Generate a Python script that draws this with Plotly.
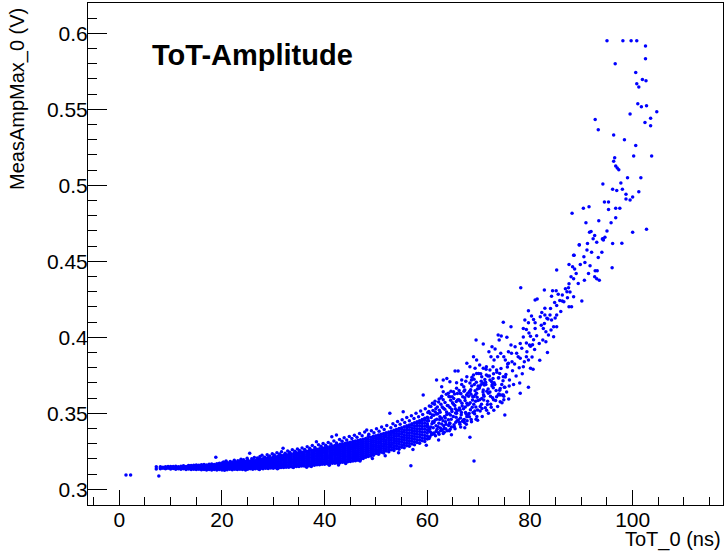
import plotly.graph_objects as go

# dense core of the ToT vs amplitude band, read column by column (ToT in ns, amplitude in V)
core_tot = [8.0, 8.5, 9.0, 9.5, 10.0, 10.5, 11.0, 11.5, 12.0, 12.5, 13.0, 13.5, 14.0, 14.5,
            15.0, 15.5, 16.0, 16.5, 17.0, 17.5, 18.0, 18.5, 19.0, 19.5, 20.0, 20.5, 21.0, 21.5,
            22.0, 22.5, 23.0, 23.5, 24.0, 24.5, 25.0, 25.5, 26.0, 26.5, 27.0, 27.5, 28.0, 28.5,
            29.0, 29.5, 30.0, 30.5, 31.0, 31.5, 32.0, 32.5, 33.0, 33.5, 34.0, 34.5, 35.0, 35.5,
            36.0, 36.5, 37.0, 37.5, 38.0, 38.5, 39.0, 39.5, 40.0, 40.5, 41.0, 41.5, 42.0, 42.5,
            43.0, 43.5, 44.0, 44.5, 45.0, 45.5, 46.0, 46.5, 47.0, 47.5, 48.0, 48.5, 49.0, 49.5,
            50.0, 50.5, 51.0, 51.5, 52.0, 52.5, 53.0, 53.5, 54.0, 54.5, 55.0, 55.5, 56.0, 56.5,
            57.0, 57.5, 58.0, 58.5, 59.0, 59.5, 60.0]
core_amp = [
    [.3136, .3142, .3148], [.3139, .3145], [.3135, .3141, .3148], [.3138, .3145, .3151],
    [.3134, .3140, .3146, .3151], [.3137, .3144, .3150], [.3133, .3139, .3146, .3152],
    [.3136, .3143, .3149], [.3132, .3139, .3145, .3152], [.3135, .3142, .3148, .3155],
    [.3131, .3138, .3144, .3151], [.3134, .3141, .3147, .3154, .3157],
    [.3130, .3137, .3143, .3150, .3157], [.3133, .3140, .3146, .3153, .3159],
    [.3130, .3136, .3142, .3148, .3155, .3160], [.3132, .3139, .3145, .3152, .3158],
    [.3129, .3135, .3141, .3148, .3155, .3162], [.3131, .3138, .3144, .3151, .3158, .3164],
    [.3128, .3134, .3141, .3147, .3154, .3161], [.3131, .3137, .3144, .3150, .3157, .3165],
    [.3128, .3134, .3140, .3147, .3154, .3160, .3167], [.3130, .3137, .3143, .3150, .3157, .3164],
    [.3128, .3134, .3140, .3147, .3153, .3160, .3168],
    [.3131, .3137, .3144, .3150, .3157, .3164, .3171],
    [.3128, .3134, .3141, .3147, .3154, .3160, .3167, .3173],
    [.3131, .3137, .3144, .3151, .3158, .3165, .3172],
    [.3129, .3135, .3142, .3148, .3155, .3162, .3169, .3176],
    [.3132, .3138, .3145, .3152, .3159, .3166, .3173],
    [.3129, .3136, .3142, .3149, .3156, .3163, .3170, .3178],
    [.3132, .3139, .3146, .3153, .3160, .3167, .3174, .3181],
    [.3130, .3136, .3143, .3150, .3157, .3164, .3171, .3178],
    [.3133, .3140, .3147, .3154, .3161, .3168, .3175, .3183],
    [.3131, .3138, .3145, .3152, .3159, .3166, .3173, .3180, .3188],
    [.3134, .3141, .3148, .3155, .3162, .3170, .3177, .3185],
    [.3132, .3139, .3146, .3153, .3161, .3168, .3175, .3183, .3191],
    [.3135, .3142, .3149, .3157, .3164, .3172, .3179, .3187],
    [.3133, .3140, .3148, .3155, .3162, .3170, .3178, .3186, .3194],
    [.3136, .3144, .3151, .3159, .3166, .3174, .3182, .3190],
    [.3135, .3142, .3149, .3157, .3165, .3173, .3181, .3189, .3197],
    [.3137, .3145, .3153, .3161, .3168, .3176, .3184, .3193, .3200],
    [.3136, .3143, .3151, .3159, .3167, .3175, .3183, .3191, .3201],
    [.3138, .3146, .3154, .3162, .3170, .3178, .3187, .3195, .3204],
    [.3137, .3145, .3153, .3161, .3169, .3177, .3185, .3193, .3202, .3209],
    [.3140, .3148, .3156, .3164, .3172, .3181, .3189, .3198, .3207],
    [.3139, .3147, .3155, .3163, .3171, .3179, .3188, .3196, .3205, .3214],
    [.3142, .3154, .3166, .3178, .3190, .3202, .3214],
    [.3141, .3148, .3160, .3172, .3184, .3196, .3208, .3219],
    [.3144, .3156, .3168, .3180, .3192, .3204, .3216, .3222],
    [.3143, .3150, .3162, .3174, .3186, .3198, .3210, .3224],
    [.3146, .3158, .3170, .3182, .3194, .3206, .3218, .3228],
    [.3145, .3152, .3164, .3176, .3188, .3200, .3212, .3224, .3231],
    [.3148, .3160, .3172, .3184, .3196, .3208, .3220, .3232],
    [.3148, .3154, .3166, .3178, .3190, .3202, .3214, .3226, .3236],
    [.3150, .3162, .3174, .3186, .3198, .3210, .3222, .3234, .3240],
    [.3150, .3157, .3169, .3181, .3193, .3205, .3217, .3229, .3242],
    [.3153, .3165, .3177, .3189, .3201, .3213, .3225, .3237, .3246],
    [.3153, .3160, .3172, .3184, .3196, .3208, .3220, .3232, .3247],
    [.3156, .3168, .3180, .3192, .3204, .3216, .3228, .3240, .3251],
    [.3156, .3163, .3175, .3187, .3199, .3211, .3223, .3235, .3247, .3255],
    [.3159, .3171, .3183, .3195, .3207, .3219, .3231, .3243, .3258],
    [.3159, .3166, .3178, .3190, .3202, .3214, .3226, .3238, .3250, .3261],
    [.3162, .3174, .3186, .3198, .3210, .3222, .3234, .3246, .3258, .3264],
    [.3162, .3169, .3181, .3193, .3205, .3217, .3229, .3241, .3253, .3267],
    [.3165, .3177, .3189, .3201, .3213, .3225, .3237, .3249, .3261, .3270],
    [.3165, .3172, .3184, .3196, .3208, .3220, .3232, .3244, .3256, .3268, .3274],
    [.3168, .3180, .3192, .3204, .3216, .3228, .3240, .3252, .3264, .3278],
    [.3168, .3175, .3187, .3199, .3211, .3223, .3235, .3247, .3259, .3271, .3281],
    [.3171, .3183, .3195, .3207, .3219, .3231, .3243, .3255, .3267, .3279, .3285],
    [.3171, .3178, .3190, .3202, .3214, .3226, .3238, .3250, .3262, .3274, .3288],
    [.3174, .3186, .3198, .3210, .3222, .3234, .3246, .3258, .3270, .3282, .3292],
    [.3175, .3182, .3194, .3206, .3218, .3230, .3242, .3254, .3266, .3278, .3290, .3296],
    [.3178, .3190, .3202, .3214, .3226, .3238, .3250, .3262, .3274, .3286, .3299],
    [.3178, .3186, .3198, .3210, .3222, .3234, .3246, .3258, .3270, .3282, .3294, .3303],
    [.3182, .3194, .3206, .3218, .3230, .3242, .3254, .3266, .3278, .3290, .3302, .3307],
    [.3183, .3191, .3203, .3215, .3227, .3239, .3251, .3263, .3275, .3287, .3299, .3310],
    [.3187, .3199, .3211, .3223, .3235, .3247, .3259, .3271, .3283, .3295, .3307, .3314],
    [.3188, .3196, .3208, .3220, .3232, .3244, .3256, .3268, .3280, .3292, .3304, .3318],
    [.3192, .3205, .3218, .3231, .3244, .3257, .3270, .3283, .3296, .3309, .3322],
    [.3196, .3202, .3215, .3228, .3241, .3254, .3267, .3280, .3293, .3306, .3319, .3326],
    [.3203, .3210, .3223, .3236, .3249, .3262, .3275, .3288, .3301, .3314, .3330],
    [.3211, .3221, .3234, .3247, .3260, .3273, .3286, .3299, .3312, .3325, .3334],
    [.3216, .3230, .3244, .3258, .3272, .3286, .3300, .3314, .3330, .3347],
    [.3220, .3229, .3243, .3257, .3271, .3285, .3299, .3313, .3327, .3343],
    [.3224, .3238, .3252, .3266, .3280, .3294, .3308, .3322, .3337, .3350],
    [.3236, .3250, .3264, .3278, .3292, .3306, .3320, .3334, .3352],
    [.3231, .3245, .3259, .3273, .3287, .3301, .3315, .3329, .3343, .3357],
    [.3244, .3259, .3274, .3289, .3304, .3319, .3334, .3349, .3362],
    [.3239, .3254, .3269, .3284, .3299, .3314, .3329, .3344, .3359, .3367],
    [.3252, .3267, .3282, .3297, .3312, .3327, .3342, .3357, .3372],
    [.3247, .3262, .3277, .3292, .3307, .3322, .3337, .3352, .3367, .3378],
    [.3261, .3277, .3293, .3309, .3325, .3341, .3357, .3373, .3383],
    [.3255, .3271, .3287, .3303, .3319, .3335, .3351, .3367, .3383, .3389],
    [.3269, .3285, .3301, .3317, .3333, .3349, .3365, .3381, .3394],
    [.3264, .3281, .3298, .3315, .3332, .3349, .3366, .3383, .3400],
    [.3277, .3294, .3311, .3328, .3345, .3362, .3379, .3396, .3406],
    [.3273, .3290, .3307, .3324, .3341, .3358, .3375, .3392, .3412],
    [.3287, .3304, .3321, .3338, .3355, .3372, .3389, .3406, .3418],
    [.3283, .3301, .3319, .3337, .3355, .3373, .3391, .3409, .3424],
    [.3298, .3316, .3334, .3352, .3370, .3388, .3406, .3424, .3431],
    [.3293, .3311, .3329, .3347, .3365, .3383, .3401, .3419, .3438],
    [.3308, .3326, .3344, .3362, .3380, .3398, .3416, .3434, .3445],
    [.3304, .3323, .3342, .3361, .3380, .3399, .3418, .3437, .3452],
    [.3319, .3338, .3357, .3376, .3395, .3414, .3433, .3452, .3460],
    [.3315, .3335, .3355, .3375, .3395, .3415, .3435, .3455, .3467],
    [.3331, .3351, .3371, .3391, .3411, .3431, .3451, .3475],
]

# the band where it starts to spread out (60-76 ns), read point by point
mid_tot = [60.1, 60.2, 60.3, 60.4, 60.6, 60.7, 60.8, 60.9, 61.0, 60.45,
           61.1, 61.2, 61.3, 61.4, 61.6, 61.7, 61.8, 61.9, 61.5, 61.65,
           62.1, 62.2, 62.3, 62.4, 62.5, 62.6, 62.7, 62.8, 62.9, 62.45,
           63.1, 63.2, 63.3, 63.4, 63.5, 63.6, 63.7, 63.8, 63.9, 63.55,
           64.1, 64.2, 64.3, 64.4, 64.5, 64.6, 64.7, 64.8, 64.9, 64.35,
           65.1, 65.2, 65.3, 65.4, 65.5, 65.6, 65.7, 65.8, 65.9, 65.45,
           66.1, 66.2, 66.3, 66.4, 66.5, 66.6, 66.7, 66.8, 66.9, 66.45,
           67.1, 67.2, 67.3, 67.4, 67.5, 67.6, 67.7, 67.8, 67.9, 67.45,
           68.1, 68.2, 68.3, 68.4, 68.5, 68.6, 68.7, 68.8, 68.9, 68.45,
           69.1, 69.2, 69.3, 69.4, 69.5, 69.6, 69.7, 69.8, 69.9, 69.45,
           70.1, 70.3, 70.4, 70.6, 70.7, 70.8, 70.95, 70.55,
           71.1, 71.3, 71.45, 71.6, 71.75, 71.9, 71.2,
           72.1, 72.35, 72.5, 72.7, 72.85, 72.95,
           73.15, 73.3, 73.55, 73.7, 73.85, 73.95,
           74.1, 74.35, 74.55, 74.75, 74.9,
           75.2, 75.45, 75.65, 75.85, 75.95,
           60.05, 60.15, 60.25, 60.35, 60.55, 60.65, 60.75, 60.85,
           61.05, 61.15, 61.25, 61.35, 61.55, 61.7, 61.85, 61.95,
           62.05, 62.15, 62.25, 62.35, 62.55, 62.65, 62.75, 62.85,
           63.05, 63.15, 63.25, 63.35, 63.45, 63.65, 63.75, 63.85,
           64.05, 64.15, 64.25, 64.45, 64.55, 64.65, 64.75, 64.85,
           65.05, 65.15, 65.25, 65.35, 65.55, 65.65, 65.75, 65.85,
           66.05, 66.15, 66.25, 66.35, 66.55, 66.65, 66.75, 66.85,
           67.05, 67.15, 67.25, 67.35, 67.55, 67.65, 67.75, 67.85,
           68.05, 68.15, 68.25, 68.35, 68.55, 68.65, 68.75, 68.85,
           69.05, 69.15, 69.25, 69.35, 69.55, 69.65, 69.75, 69.85,
           70.2, 70.45, 70.65, 70.85, 71.05, 71.35, 71.55, 71.85, 72.2, 72.45, 72.65, 72.9]
mid_amp = [.3468, .3341, .3512, .3402, .3377, .3545, .3359, .3431, .3489, .3396,
           .3519, .3371, .3440, .3560, .3352, .3418, .3496, .3395, .3454, .3531,
           .3412, .3575, .3362, .3459, .3508, .3386, .3603, .3430, .3541, .3477,
           .3590, .3418, .3375, .3527, .3470, .3399, .3625, .3493, .3551, .3444,
           .3458, .3611, .3385, .3538, .3489, .3645, .3410, .3512, .3569, .3437,
           .3560, .3425, .3627, .3398, .3503, .3474, .3665, .3452, .3588, .3531,
           .3522, .3650, .3440, .3582, .3410, .3491, .3690, .3548, .3610, .3470,
           .3675, .3460, .3603, .3541, .3712, .3428, .3566, .3488, .3632, .3505,
           .3560, .3478, .3700, .3523, .3625, .3445, .3738, .3588, .3505, .3655,
           .3725, .3497, .3648, .3580, .3462, .3762, .3606, .3522, .3680, .3541,
           .3665, .3515, .3760, .3598, .3480, .3700, .3622, .3560,
           .3686, .3537, .3790, .3645, .3580, .3500, .3722,
           .3745, .3560, .3710, .3602, .3668, .3520,
           .3690, .3585, .3770, .3545, .3732, .3628,
           .3652, .3795, .3570, .3715, .3612,
           .3740, .3640, .3825, .3595, .3680,
           .3420, .3385, .3452, .3335, .3499, .3410, .3472, .3365,
           .3445, .3405, .3488, .3362, .3509, .3380, .3462, .3541,
           .3498, .3372, .3435, .3521, .3404, .3560, .3468, .3389,
           .3452, .3534, .3401, .3480, .3572, .3428, .3509, .3385,
           .3550, .3420, .3497, .3395, .3586, .3462, .3525, .3610,
           .3480, .3598, .3412, .3551, .3442, .3578, .3519, .3630,
           .3458, .3590, .3536, .3429, .3629, .3505, .3567, .3448,
           .3530, .3645, .3440, .3585, .3498, .3620, .3452, .3555,
           .3612, .3499, .3645, .3570, .3460, .3680, .3540, .3610,
           .3560, .3690, .3515, .3620, .3705, .3480, .3660, .3585,
           .3590, .3688, .3532, .3640, .3612, .3705, .3520, .3660, .3640, .3540, .3690, .3760]

# speckle along the upper and lower edges of the band
edge_tot = [20.3, 20.8, 21.6, 22.4, 23.1, 23.7, 24.2, 24.9, 25.4, 25.8, 26.3, 26.9, 27.4, 27.8,
            28.3, 28.8, 29.3, 29.8, 30.2, 30.7, 31.2, 31.6, 31.9, 32.3, 32.8, 33.2, 33.7, 34.2,
            34.7, 35.1, 35.6, 36.1, 36.6, 37.1, 37.6, 38.1, 38.4, 38.8, 39.3, 39.7, 40.2, 40.7,
            41.2, 41.8, 42.3, 42.9, 43.4, 43.8, 44.3, 44.8, 45.3, 45.8, 46.3, 46.8, 47.3, 47.8,
            48.2, 48.6, 49.1, 49.6, 50.1, 50.6, 51.1, 51.6, 52.1, 52.7, 52.9, 53.3, 53.8, 54.2,
            54.7, 55.3, 55.1, 55.6, 56.0, 56.5, 56.9, 57.4, 57.8, 58.3, 58.7, 59.2, 59.1, 59.6,
            60.1, 60.4, 61.0, 61.5, 61.8, 62.3, 62.8,
            20.5, 24.6, 27.3, 30.8, 33.9, 37.4, 40.9, 44.1, 46.9, 49.3, 51.8, 54.4, 57.2, 59.8,
            62.2, 64.7, 67.3, 69.8]
edge_amp = [.3180, .3186, .3183, .3192, .3188, .3198, .3195, .3204, .3237, .3201, .3210, .3206, .3216, .3224,
            .3212, .3228, .3219, .3235, .3226, .3240, .3232, .3248, .3270, .3238, .3252, .3244, .3260, .3250,
            .3265, .3256, .3272, .3262, .3280, .3270, .3288, .3276, .3313, .3294, .3283, .3302, .3290, .3309,
            .3298, .3318, .3305, .3328, .3316, .3340, .3325, .3348, .3334, .3356, .3342, .3368, .3352, .3378,
            .3390, .3362, .3385, .3372, .3398, .3382, .3410, .3393, .3420, .3500, .3405, .3432, .3418, .3446,
            .3428, .3510, .3458, .3440, .3472, .3452, .3485, .3466, .3500, .3478, .3515, .3620, .3492, .3530,
            .3506, .3548, .3566, .3580, .3720, .3595, .3612,
            .3125, .3128, .3131, .3136, .3143, .3151, .3159, .3170, .3186, .3203, .3221, .3240, .3262, .3290,
            .3325, .3360, .3405, .3455]

# scattered points read one by one (tail, outliers and the steep upper part)
sparse_tot = [1.3, 2.2, 7.2, 7.2, 7.7, 18.8, 36.5, 42.7, 41.4, 42.3, 56.8, 68.3, 69.1,
              60.5, 62.8, 63.1, 64.4, 65.7, 66.4, 67.0, 67.7, 73.5, 73.8, 74.2, 74.2, 74.6, 75.0,
              75.1, 75.1, 62.8, 63.1, 64.1, 65.1, 64.4, 66.4, 67.3, 68.3, 69.0, 69.6, 70.9, 71.9,
              74.2, 74.8, 78.1, 79.7, 65.4, 66.0, 63.8, 63.1, 64.4, 65.7, 66.7, 67.7, 68.6, 69.0,
              72.2, 72.8, 70.9, 70.2, 70.0, 70.6, 71.5, 72.2, 72.8, 73.5, 74.1, 74.8, 70.2, 70.9,
              71.5, 67.7, 68.3, 69.3, 69.0, 69.6, 72.0, 72.4, 73.0, 75.2, 75.8, 76.5, 78.7, 80.1,
              75.8, 76.4, 77.4, 74.3, 74.9, 73.7, 77.7, 78.1, 79.3, 79.7, 72.6, 73.2, 76.3, 77.1,
              78.1, 78.4, 69.5, 70.9, 73.8, 74.4, 74.0, 75.5, 79.3, 79.8, 80.1, 78.7, 79.3, 80.1,
              80.7, 80.5, 74.8, 76.3, 78.7, 82.6, 83.1, 83.6, 84.1, 84.6, 83.1, 82.5, 80.7, 81.0,
              81.0, 79.0, 79.7, 82.8, 84.2, 84.6, 85.2, 82.0, 82.9, 83.3, 83.9, 84.9, 85.2, 79.7,
              80.3, 82.3, 82.9, 87.6, 88.1, 85.2, 88.5, 90.1, 85.8, 86.3, 86.6, 81.4, 81.0, 84.2,
              85.5, 86.3, 87.2, 87.8, 87.5, 84.4, 85.1, 82.8, 78.2, 89.4, 87.6, 88.0, 88.5, 90.6,
              92.6, 93.0, 93.5, 85.2, 87.6, 88.3, 88.7, 91.7, 92.7, 93.1, 96.0, 90.7, 93.3, 88.5,
              91.1, 89.6, 91.2, 96.1, 93.0, 94.3, 94.1, 88.6, 89.6, 92.3, 94.2, 94.6, 92.6, 91.6,
              91.9, 100.0, 102.7, 90.9, 93.4, 95.8, 96.7, 88.2, 90.4, 95.3, 96.7, 94.5, 95.3, 98.7,
              99.5, 100.0, 98.7, 101.2, 96.1, 96.9, 98.0, 94.2, 97.7, 96.3, 96.7, 97.0, 97.3, 96.5,
              100.2, 103.7, 100.6, 96.3, 93.3, 102.4, 103.5, 103.5, 92.7, 99.5, 101.0, 101.7, 102.7,
              104.7, 100.8, 101.2, 101.9, 102.6, 100.6, 96.6, 102.5, 102.5, 95.0, 98.1, 99.7, 100.8,
              70.5, 71.0, 71.4, 71.8, 72.3, 72.6, 73.0, 73.4, 73.9, 74.5, 75.3, 75.6, 76.0, 76.6,
              77.0, 77.3, 77.9, 78.5, 78.9, 79.4, 79.9, 80.4, 80.9, 81.3, 81.8, 82.2, 83.5, 84.0,
              84.8, 86.0, 86.9, 87.3, 89.0, 89.8, 90.5, 91.4, 92.0, 94.0, 95.0, 97.5, 99.0, 98.4,
              101.6, 97.9, 91.5, 71.7, 72.9, 76.8, 70.3, 74.9, 78.0, 80.6, 81.9, 83.4]
sparse_amp = [.3094, .3094, .3149, .3134, .3087, .3211, .3145, .3160, .3346, .3357, .3155, .3342, .3186,
              .3346, .3390, .3368, .3434, .3500, .3522, .3456, .3478, .3609, .3620, .3576, .3620, .3620, .3671,
              .3671, .3489, .3675, .3642, .3632, .3642, .3609, .3632, .3653, .3642, .3609, .3632, .3653, .3632,
              .3664, .3620, .3632, .3671, .3778, .3778, .3730, .3719, .3708, .3701, .3719, .3741, .3719, .3752,
              .3719, .3730, .3697, .3675, .3763, .3741, .3752, .3785, .3807, .3785, .3763, .3741, .3818, .3796,
              .3807, .3829, .3807, .3796, .3873, .3851, .3905, .3873, .3851, .3851, .3829, .3840, .3807, .3796,
              .3905, .3895, .3895, .3895, .3873, .3873, .3873, .3862, .3873, .3851, .3938, .3923, .3949, .3938,
              .3960, .3928, .3982, .3956, .4015, .4009, .3982, .4000, .4051, .4029, .4007, .4002, .3963, .3941,
              .3985, .3952, .4099, .4070, .4059, .4059, .4037, .4015, .4048, .4004, .3971, .3982, .4118, .4096,
              .4059, .4114, .4096, .4092, .4114, .4070, .4070, .4136, .4147, .4125, .4147, .4128, .4147, .4175,
              .4140, .4164, .4191, .4201, .4201, .4210, .4267, .4239, .4243, .4239, .4234, .4252, .4246, .4270,
              .4283, .4278, .4300, .4298, .4326, .4307, .4307, .4311, .4326, .4355, .4353, .4399, .4386, .4375,
              .4399, .4386, .4375, .4443, .4480, .4464, .4449, .4471, .4438, .4438, .4458, .4493, .4526, .4541,
              .4574, .4609, .4618, .4618, .4625, .4640, .4647, .4540, .4607, .4649, .4649, .4658, .4671, .4691,
              .4697, .4691, .4711, .4754, .4767, .4754, .4787, .4816, .4849, .4842, .4849, .4890, .4890, .4910,
              .4903, .4923, .4941, .4958, .4974, .4967, .4974, .5009, .5015, .5158, .5127, .5114, .5103, .5182,
              .5193, .5193, .5263, .5331, .5366, .5414, .5441, .5392, .5434, .5469, .5537, .5517, .5524,
              .5484, .5668, .5647, .5697, .5688, .5743, .5800, .5917, .5833, .5951, .5951, .5951, .5951,
              .3712, .3588, .3690, .3745, .3612, .3680, .3702, .3650, .3735, .3690, .3755, .3805, .3720, .3780,
              .3825, .3745, .3800, .3760, .3840, .3905, .3950, .3870, .3920, .4010, .3960, .4080, .4120, .4190,
              .4230, .4170, .4320, .4260, .4420, .4480, .4530, .4420, .4560, .4560, .4700, .4850, .5050, .5300,
              .5050, .4620, .4860, .3558, .3590, .3690, .3545, .3590, .3700, .3790, .3850, .3900]

tot = []
amp = []
for x, ys in zip(core_tot, core_amp):
    for y in ys:
        tot.append(x)
        amp.append(y)
tot += mid_tot + edge_tot + sparse_tot
amp += mid_amp + edge_amp + sparse_amp

fig = go.Figure(go.Scatter(x=tot, y=amp, mode="markers",
                           marker=dict(color="#0000ff", size=3.5, line=dict(width=0))))

axis_font = dict(family="Liberation Sans, Arial, sans-serif", size=21, color="black")
fig.update_xaxes(range=[-6.1, 117.6], tick0=0, dtick=20, ticks="inside", ticklen=15,
                 tickcolor="black", showgrid=False, zeroline=False, showline=True, mirror=True,
                 linecolor="black", linewidth=1, tickfont=axis_font, ticklabelstandoff=-4,
                 minor=dict(tick0=0, dtick=5, ticks="inside", ticklen=8, tickcolor="black"))
fig.update_yaxes(range=[0.2897, 0.62], tick0=0.3, dtick=0.05, ticks="inside", ticklen=19,
                 tickcolor="black", showgrid=False, zeroline=False, showline=True, mirror=True,
                 linecolor="black", linewidth=1, tickfont=axis_font, ticklabelstandoff=-5,
                 minor=dict(tick0=0.3, dtick=0.01, ticks="inside", ticklen=9, tickcolor="black"))

fig.add_annotation(text="<b>ToT-Amplitude</b>", xref="paper", yref="paper", x=0.0976, y=0.896,
                   xanchor="left", yanchor="middle", showarrow=False,
                   font=dict(family="Liberation Sans, Arial, sans-serif", size=29, color="black"))
fig.add_annotation(text="ToT_0 (ns)", xref="paper", yref="paper", x=1, y=0,
                   xanchor="right", yanchor="top", yshift=-21, showarrow=False,
                   font=dict(family="Liberation Sans, Arial, sans-serif", size=20, color="black"))
fig.add_annotation(text="MeasAmpMax_0 (V)", xref="paper", yref="paper", x=0, y=1,
                   xanchor="center", yanchor="top", xshift=-71, yshift=-3, textangle=-90,
                   showarrow=False,
                   font=dict(family="Liberation Sans, Arial, sans-serif", size=20, color="black"))

fig.update_layout(width=725, height=552, margin=dict(l=88, r=2, t=3, b=47),
                  plot_bgcolor="white", paper_bgcolor="white", showlegend=False)

fig.write_html("out.html", config={"displayModeBar": False},
               post_script="document.body.style.margin='0';")
